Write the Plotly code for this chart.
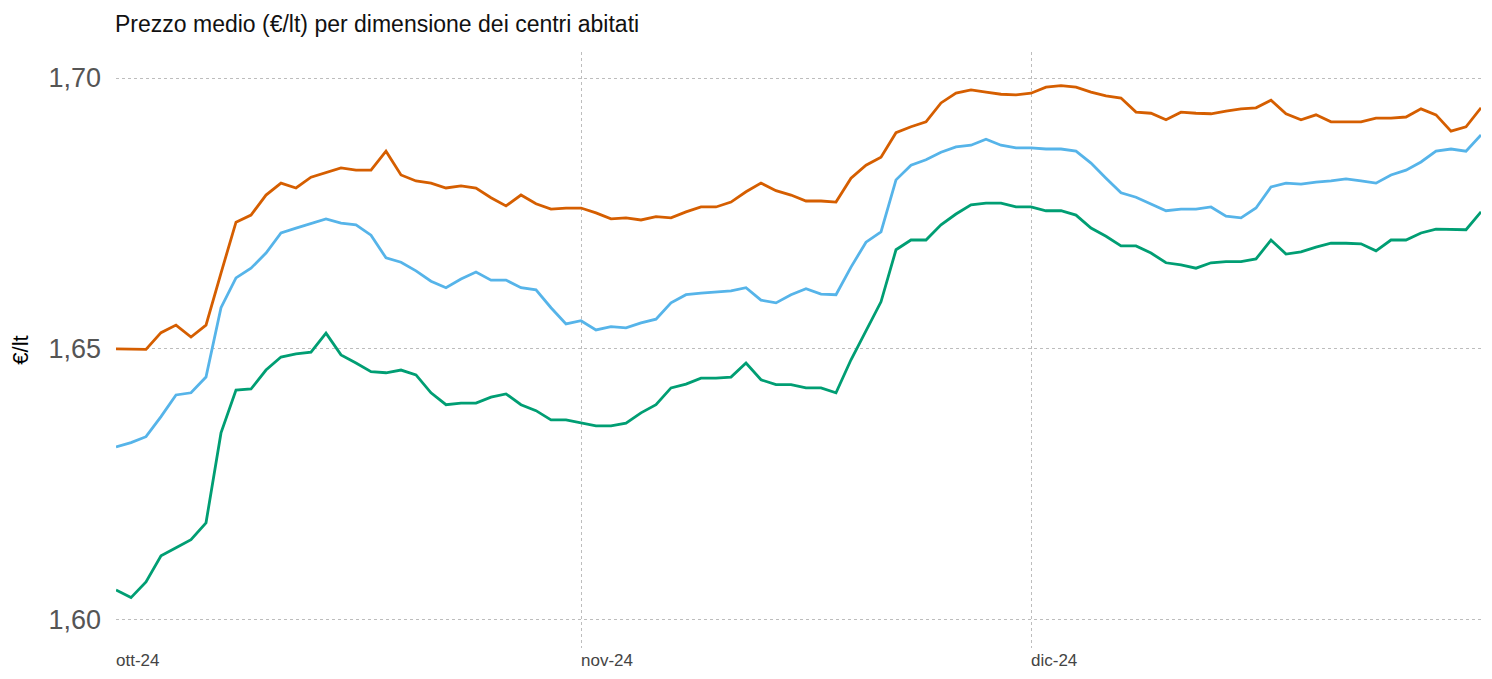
import pandas as pd
import plotly.graph_objects as go

# giorni dal 1 ottobre al 31 dicembre 2024
giorni = pd.date_range("2024-10-01", "2024-12-31", freq="D")

# prezzo medio (€/lt) - serie arancione
prezzo_arancio = [
    1.6500, 1.6499, 1.6499, 1.6530, 1.6544, 1.6522, 1.6544, 1.6640, 1.6734, 1.6747,
    1.6784, 1.6806, 1.6797, 1.6817, 1.6825, 1.6834, 1.6830, 1.6830, 1.6865, 1.6821,
    1.6810, 1.6806, 1.6797, 1.6801, 1.6797, 1.6779, 1.6764, 1.6784, 1.6768, 1.6758,
    1.6760, 1.6760, 1.6751, 1.6740, 1.6742, 1.6738, 1.6744, 1.6742, 1.6753, 1.6762,
    1.6762, 1.6771, 1.6790, 1.6806, 1.6792, 1.6784, 1.6773, 1.6773, 1.6771, 1.6815,
    1.6839, 1.6854, 1.6899, 1.6910, 1.6919, 1.6954, 1.6972, 1.6978, 1.6974, 1.6970,
    1.6969, 1.6972, 1.6983, 1.6986, 1.6983, 1.6974, 1.6967, 1.6963, 1.6937, 1.6935,
    1.6923, 1.6937, 1.6935, 1.6934, 1.6939, 1.6943, 1.6945, 1.6959, 1.6934, 1.6923,
    1.6932, 1.6919, 1.6919, 1.6919, 1.6926, 1.6926, 1.6928, 1.6943, 1.6932, 1.6902,
    1.6910, 1.6945,
]

# serie azzurra
prezzo_azzurro = [
    1.6319, 1.6327, 1.6338, 1.6375, 1.6415, 1.6419, 1.6448, 1.6576, 1.6631, 1.6649,
    1.6677, 1.6714, 1.6723, 1.6732, 1.6740, 1.6732, 1.6729, 1.6710, 1.6668, 1.6660,
    1.6644, 1.6625, 1.6613, 1.6629, 1.6642, 1.6627, 1.6627, 1.6613, 1.6609, 1.6576,
    1.6546, 1.6552, 1.6535, 1.6541, 1.6539, 1.6548, 1.6555, 1.6585, 1.6600, 1.6603,
    1.6605, 1.6607, 1.6613, 1.6590, 1.6585, 1.6600, 1.6611, 1.6601, 1.6600, 1.6651,
    1.6697, 1.6716, 1.6812, 1.6839, 1.6849, 1.6863, 1.6873, 1.6876, 1.6887, 1.6876,
    1.6871, 1.6871, 1.6869, 1.6869, 1.6865, 1.6843, 1.6815, 1.6788, 1.6780, 1.6768,
    1.6755, 1.6758, 1.6758, 1.6762, 1.6745, 1.6742, 1.6760, 1.6799, 1.6806, 1.6804,
    1.6808, 1.6810, 1.6814, 1.6810, 1.6806, 1.6821, 1.6830, 1.6845, 1.6865, 1.6869,
    1.6865, 1.6895,
]

# serie verde
prezzo_verde = [
    1.6055, 1.6041, 1.6070, 1.6118, 1.6133, 1.6148, 1.6179, 1.6345, 1.6424, 1.6426,
    1.6461, 1.6485, 1.6491, 1.6494, 1.6529, 1.6489, 1.6474, 1.6458, 1.6456, 1.6461,
    1.6452, 1.6419, 1.6397, 1.6400, 1.6400, 1.6411, 1.6417, 1.6397, 1.6386, 1.6369,
    1.6369, 1.6363, 1.6358, 1.6358, 1.6363, 1.6382, 1.6397, 1.6428, 1.6435, 1.6446,
    1.6446, 1.6448, 1.6474, 1.6443, 1.6434, 1.6434, 1.6428, 1.6428, 1.6419, 1.6480,
    1.6535, 1.6587, 1.6683, 1.6701, 1.6701, 1.6729, 1.6749, 1.6766, 1.6769, 1.6769,
    1.6762, 1.6762, 1.6755, 1.6755, 1.6747, 1.6723, 1.6708, 1.6690, 1.6690, 1.6677,
    1.6659, 1.6655, 1.6649, 1.6659, 1.6661, 1.6661, 1.6666, 1.6701, 1.6675, 1.6679,
    1.6688, 1.6695, 1.6695, 1.6694, 1.6681, 1.6701, 1.6701, 1.6714, 1.6721, 1.6721,
    1.6720, 1.6753,
]

mesi = ["2024-10-01", "2024-11-01", "2024-12-01"]
etichette_mesi = ["ott-24", "nov-24", "dic-24"]

serie = [
    ("Serie arancione", prezzo_arancio, "#D55E00"),
    ("Serie azzurra", prezzo_azzurro, "#56B4E9"),
    ("Serie verde", prezzo_verde, "#009E73"),
]

fig = go.Figure()
for nome, valori, colore in serie:
    fig.add_trace(go.Scatter(x=giorni, y=valori, mode="lines", name=nome,
                             line=dict(color=colore, width=2.8)))

# la pagina ha 8px di margine sul body: figura un po' più piccola
W, H = 1476, 663

fig.update_layout(
    width=W, height=H,
    margin=dict(l=108, r=3, t=44, b=23),
    plot_bgcolor="white", paper_bgcolor="white",
    showlegend=False,
    separators=",.",
    font=dict(family="Liberation Sans, Arial, sans-serif", color="#222"),
    title=dict(text="Prezzo medio (€/lt) per dimensione dei centri abitati",
               x=107 / W, xref="container", xanchor="left",
               y=1 - 16 / H, yref="container", yanchor="middle",
               font=dict(size=23, color="#111")),
)

fig.update_xaxes(
    range=["2024-10-01", "2024-12-31"],
    tickvals=mesi, ticktext=etichette_mesi,
    ticklabelposition="outside right",
    ticklabelstandoff=0,
    tickfont=dict(size=17, color="#444"),
    showgrid=True, gridcolor="#bdbdbd", griddash="dot", gridwidth=1,
    showline=False, zeroline=False, ticks="", automargin=False,
)

fig.update_yaxes(
    range=[1.5948, 1.7048],
    tickvals=[1.60, 1.65, 1.70], tickformat=".2f",
    tickfont=dict(size=27, color="#555"),
    ticklabelstandoff=14,
    showgrid=True, gridcolor="#bdbdbd", griddash="dot", gridwidth=1,
    showline=False, zeroline=False, ticks="", automargin=False,
    title=dict(text="€/lt", font=dict(size=22, color="#000"), standoff=21),
)

fig.write_html("out.html")
